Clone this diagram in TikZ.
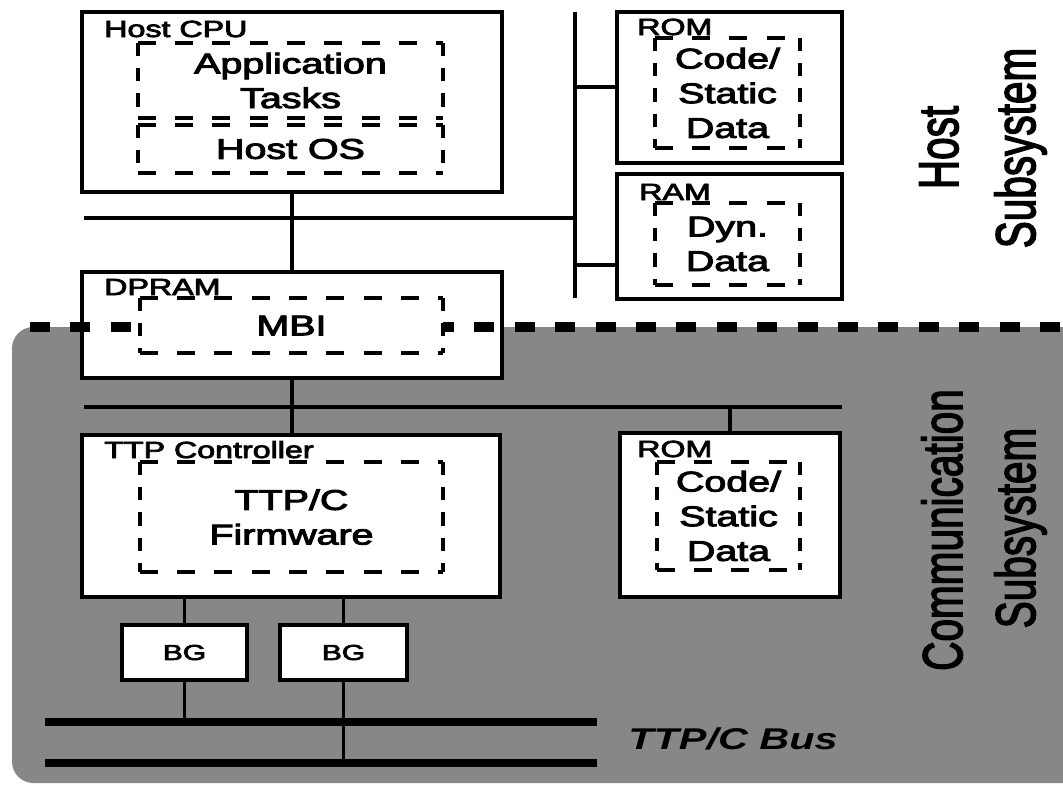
\documentclass[tikz,border=0pt]{standalone}
\usepackage{fontspec}
\setmainfont{Liberation Sans}[FakeBold=3]
\newfontfamily\busfont{Liberation Sans Bold Italic}
\usepackage{graphicx}
\usetikzlibrary{fit}
\newcommand\hs[1]{\scalebox{1.38}[1]{#1}}
\newcommand\vsx[1]{\scalebox{1}[1.38]{#1}}
\begin{document}
\begin{tikzpicture}[x=0.75pt,y=-0.75pt,
 box/.style={draw=black, fill=white, line width=3.6pt, inner sep=0pt},
 dbox/.style={fill=white, inner sep=0pt},
 hd/.style={line width=3pt, dash pattern=on 13.5pt off 14.5pt},
 vd/.style={line width=3pt, dash pattern=on 10pt off 9pt},
 wire/.style={line width=2.7pt},
 bus/.style={line width=6pt},
 sepline/.style={line width=7.5pt, dash pattern=on 15pt off 15.3pt},
 maintext/.style={font=\fontsize{21.4}{26}\selectfont, align=center, inner sep=0pt},
 lbl/.style={font=\fontsize{17.5}{20}\selectfont, anchor=base west, inner sep=0pt},
 bgtext/.style={font=\fontsize{16.2}{19}\selectfont, inner sep=0pt},
 bustext/.style={font=\fontsize{22.5}{26}\selectfont\busfont, inner sep=0pt},
 side/.style={font=\fontsize{30.4}{34}\selectfont, rotate=90, anchor=base, inner sep=0pt},
]
\useasboundingbox (0,0) rectangle (1063,786);

% communication subsystem area
\fill[black!47, rounded corners=16pt] (1100,327) -- (12,327) -- (12,783) -- (1100,783) -- cycle;

% named boxes
\path node[box, fit={(82,12) (502,192)}] (cpu) {}
      node[box, fit={(617,12) (842,163)}] (rom1) {}
      node[box, fit={(617,174) (842,299)}] (ram) {}
      node[box, fit={(82,272) (502,378)}] (dpram) {}
      node[box, fit={(82,435) (500,597)}] (ttp) {}
      node[box, fit={(620,433) (840,597)}] (rom2) {}
      node[box, fit={(122,625) (247,680)}] (bg1) {}
      node[box, fit={(280,625) (407,680)}] (bg2) {};

% connectors
\coordinate (b1L) at (84,218);
\coordinate (hbT) at (575,12);
\coordinate (hbB) at (575,298);
\coordinate (r1s) at (575,87);
\coordinate (r2s) at (575,265);
\coordinate (b2L) at (84,407);
\coordinate (b2R) at (842,407);
\coordinate (busAL) at (45,722);
\coordinate (busAR) at (597,722);
\coordinate (busBL) at (45,763);
\coordinate (busBR) at (597,763);
\draw[wire] (b1L) -- (b1L -| hbT);
\draw[wire] (hbT) -- (hbB);
\draw[wire] (r1s) -- (r1s -| rom1.west);
\draw[wire] (r2s) -- (r2s -| ram.west);
\draw[wire] (cpu.south) -- (dpram.north);
\draw[wire] (b2L) -- (b2R);
\draw[wire] (dpram.south) -- (dpram.south |- ttp.north);
\draw[wire] (rom2.north |- b2R) -- (rom2.north);
\draw[wire] (bg1.north |- ttp.south) -- (bg1.north);
\draw[wire] (bg2.north |- ttp.south) -- (bg2.north);
\draw[wire] (bg1.south) -- (bg1.south |- busAL);
\draw[wire] (bg2.south) -- (bg2.south |- busBL);
\draw[bus] (busAL) -- (busAR);
\draw[bus] (busBL) -- (busBR);

% boxes drawn over connector ends
\path node[box, fit={(82,12) (502,192)}] {}
      node[box, fit={(617,12) (842,163)}] {}
      node[box, fit={(617,174) (842,299)}] {}
      node[box, fit={(82,272) (502,378)}] {}
      node[box, fit={(82,435) (500,597)}] {}
      node[box, fit={(620,433) (840,597)}] {}
      node[box, fit={(122,625) (247,680)}] {}
      node[box, fit={(280,625) (407,680)}] {};

% subsystem separator
\coordinate (sepL) at (30,327);
\coordinate (sepR) at (1063,327);
\draw[sepline] (sepL) -- (sepR);

% dashed inner boxes
\path node[dbox, fit={(138,43) (443,118)}] (app) {}
      node[dbox, fit={(138,125) (443,173)}] (os) {}
      node[dbox, fit={(655,38) (800,148)}] (rom1in) {}
      node[dbox, fit={(655,203) (800,285)}] (ramin) {}
      node[dbox, fit={(140,298) (443,353)}] (mbi) {}
      node[dbox, fit={(140,462) (443,572)}] (fw) {}
      node[dbox, fit={(657,462) (800,570)}] (rom2in) {};
\foreach \n in {app,os,rom1in,ramin,mbi,fw,rom2in} {
  \draw[hd] (\n.north west) -- (\n.north east) (\n.south west) -- (\n.south east);
  \draw[vd] (\n.north west) -- (\n.south west) (\n.north east) -- (\n.south east);
}

% box labels
\node[lbl] (lcpu) at (104,37) {\hs{Host CPU}};
\node[lbl] (lrom1) at (637,35) {\hs{ROM}};
\node[lbl] (lram) at (639,200) {\hs{RAM}};
\node[lbl] (ldpram) at (104,295) {\hs{DPRAM}};
\node[lbl] (lttp) at (104,458) {\hs{TTP Controller}};
\node[lbl] (lrom2) at (637,457) {\hs{ROM}};

% contents
\node[maintext] (tapp) at (app.center) {\hs{Application}\\\hs{Tasks}};
\node[maintext] (tos) at (os.center) {\hs{Host OS}};
\node[maintext] (trom1) at (rom1in.center) {\hs{Code/}\\\hs{Static}\\\hs{Data}};
\node[maintext] (tram) at (ramin.center) {\hs{Dyn.}\\\hs{Data}};
\node[maintext] (tmbi) at (mbi.center) {\hs{MBI}};
\node[maintext] (tfw) at (fw.center) {\hs{TTP/C}\\\hs{Firmware}};
\node[maintext] (trom2) at (rom2in.center) {\hs{Code/}\\\hs{Static}\\\hs{Data}};
\node[bgtext] (tbg1) at (bg1.center) {\hs{BG}};
\node[bgtext] (tbg2) at (bg2.center) {\hs{BG}};
\node[bustext] (tbus) at (733,739) {\hs{TTP/C Bus}};

% side titles
\node[side] (h1) at (958,147.5) {\vsx{Host}};
\node[side] (h2) at (1035,148) {\vsx{Subsystem}};
\node[side] (c1) at (962,530) {\vsx{Communication}};
\node[side] (c2) at (1035,528) {\vsx{Subsystem}};
\end{tikzpicture}
\end{document}
